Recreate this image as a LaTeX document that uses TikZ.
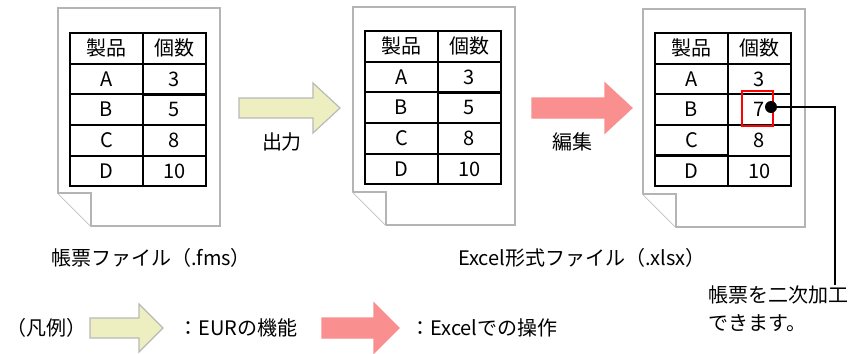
\documentclass[tikz,border=0pt]{standalone}
\usepackage{fontspec}
\setmainfont{Noto Sans CJK JP}
\usetikzlibrary{matrix,positioning}
\definecolor{eurfill}{HTML}{EEEFC0}
\definecolor{xlsfill}{HTML}{F98F8F}
\definecolor{pagegray}{HTML}{B4B4B4}

\begin{document}
\begin{tikzpicture}[x=0.5pt, y=-0.5pt,
  pageline/.style={draw=pagegray, line width=0.8pt, fill=white},
  cell/.style={draw, line width=1pt, minimum height=15.25pt, inner sep=0pt, font=\fontsize{10}{12}\selectfont},
  table/.style={matrix of nodes, nodes={cell}, column sep=-1pt, row sep=-1pt, inner sep=0pt, outer sep=0pt, anchor=north west,
    column 1/.style={nodes={minimum width=36.5pt}},
    column 2/.style={nodes={minimum width=31.5pt}}},
  docpage/.pic={
    \draw[pageline] (0,0) -- (162,0) -- (162,218) -- (33,218) -- (0,185) -- cycle;
    \draw[pageline] (0,185) -- (33,185) -- (33,218);
  },
  txt/.style={font=\fontsize{10}{12}\selectfont, inner sep=0pt},
  eurarrow/.style={fill=eurfill, draw=gray!55, line width=0.6pt},
  xlsarrow/.style={fill=xlsfill, draw=xlsfill, line width=0.6pt},
  redbox/.style={draw=red, line width=1pt, inner sep=0pt}
]
\fill[white] (0,0) rectangle (859,354);
\useasboundingbox (0,0) rectangle (859,354);

% pages
\pic at (58,8) {docpage};
\pic at (353,7) {docpage};
\pic at (643,9) {docpage};

% tables
\matrix (tabfms) [table] at (69,32) {
  製品 & 個数 \\ A & 3 \\ B & 5 \\ C & 8 \\ D & 10 \\
};
\matrix (tabxls) [table] at (364,30) {
  製品 & 個数 \\ A & 3 \\ B & 5 \\ C & 8 \\ D & 10 \\
};
\matrix (tabedit) [table] at (654,32) {
  製品 & 個数 \\ A & 3 \\ B & 7 \\ C & 8 \\ D & 10 \\
};

% file names
\node[txt] (fmsname) at (151,258) {帳票ファイル（.fms）};
\node[txt] (xlsxname) at (582,258) {Excel形式ファイル（.xlsx）};

% process arrows
\filldraw[eurarrow] (239,98) -- (313,98) -- (313,83) -- (340,108) -- (313,133) -- (313,118) -- (239,118) -- cycle;
\filldraw[xlsarrow] (532,98) -- (605,98) -- (605,83) -- (632,108) -- (605,133) -- (605,118) -- (532,118) -- cycle;
\node[txt] (output) at (282,142) {出力};
\node[txt] (edit) at (572,142) {編集};

% edited cell
\node[redbox, minimum width=15.5pt, minimum height=17.5pt] (changed) at (757.5,108.5) {};
\coordinate (pin) at (771,107);
\coordinate (bend) at (835,107);
\node[txt, anchor=north west, align=left, font=\fontsize{10}{14}\selectfont] (note) at (708,285) {帳票を二次加工\\できます。};
\fill (pin) circle (3pt);
\draw[line width=0.8pt] (pin) -- (bend) -- (bend |- note.north);

% legend
\node[txt, anchor=west] (legend) at (6,328) {（凡例）};
\filldraw[eurarrow] (90,318) -- (139,318) -- (139,304) -- (163,328) -- (139,352) -- (139,338) -- (90,338) -- cycle;
\node[txt, anchor=west] (eurkey) at (178,328) {：EURの機能};
\filldraw[xlsarrow] (322,318) -- (374,318) -- (374,303) -- (399,328) -- (374,353) -- (374,338) -- (322,338) -- cycle;
\node[txt, anchor=west] (xlskey) at (410,328) {：Excelでの操作};
\end{tikzpicture}
\end{document}
